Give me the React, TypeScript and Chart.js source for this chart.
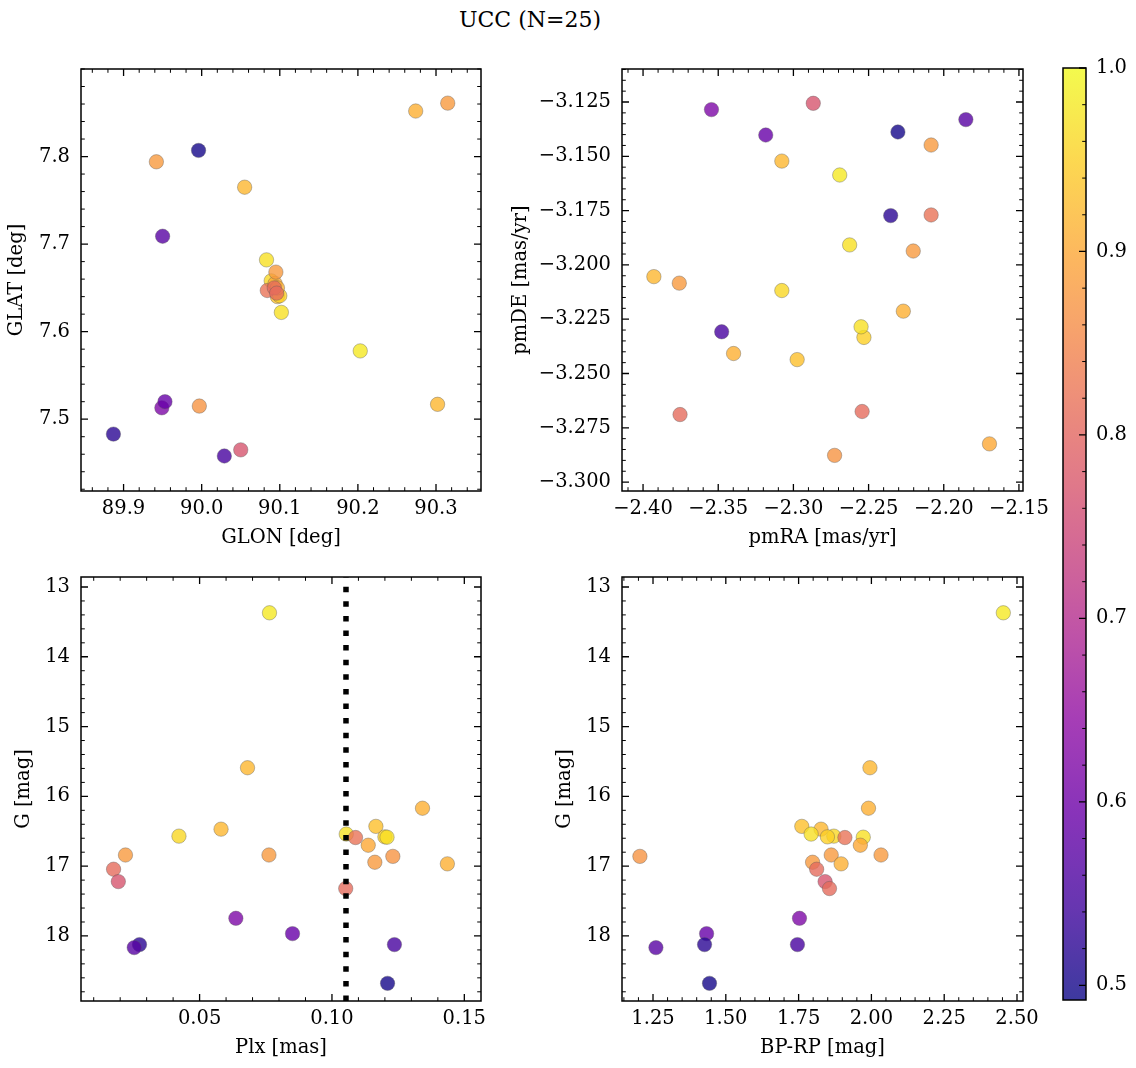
import React, { useEffect, useRef } from "react";
import { Chart, registerables } from "chart.js";
Chart.register(...registerables);

const TITLE = "UCC (N=25)";

// one entry per star
const prob = [0.98, 0.92, 0.91, 0.93, 0.92, 0.97, 0.96, 0.95, 0.97, 0.82, 0.90, 0.88, 0.88, 0.87, 0.88, 0.91, 0.81, 0.77, 0.81, 0.62, 0.59, 0.52, 0.55, 0.57, 0.50];
const glon = [90.203, 90.055, 90.274, 90.097, 90.302, 90.083, 90.089, 90.100, 90.102, 90.084, 90.094, 90.315, 89.942, 89.997, 90.095, 90.097, 90.093, 90.050, 90.096, 89.949, 89.953, 89.887, 90.029, 89.950, 89.996];
const glat = [7.578, 7.765, 7.852, 7.640, 7.517, 7.682, 7.658, 7.641, 7.622, 7.647, 7.655, 7.861, 7.794, 7.515, 7.668, 7.650, 7.650, 7.465, 7.644, 7.513, 7.520, 7.483, 7.458, 7.709, 7.807];
const pmra = [-2.2692, -2.3077, -2.2269, -2.2975, -2.3928, -2.2626, -2.3077, -2.2531, -2.2550, -2.2084, -2.1696, -2.2084, -2.3759, -2.2726, -2.2203, -2.3398, -2.3754, -2.2868, -2.2543, -2.3545, -2.3184, -2.2353, -2.3477, -2.1853, -2.2305];
const pmde = [-3.1586, -3.1522, -3.2213, -3.2436, -3.2054, -3.1908, -3.2118, -3.2334, -3.2285, -3.1770, -3.2824, -3.1448, -3.2084, -3.2877, -3.1936, -3.2408, -3.2689, -3.1256, -3.2675, -3.1285, -3.1402, -3.1773, -3.2308, -3.1331, -3.1388];
const plx = [0.0764, 0.0681, 0.1342, 0.1166, 0.0581, 0.1054, 0.0422, 0.1200, 0.1208, 0.1089, 0.1137, 0.0762, 0.0220, 0.1230, 0.1162, 0.1436, 0.0175, 0.0193, 0.1052, 0.0637, 0.0851, 0.0273, 0.1236, 0.0253, 0.1210];
const gmag = [13.37, 15.59, 16.17, 16.43, 16.47, 16.54, 16.57, 16.58, 16.585, 16.59, 16.70, 16.84, 16.84, 16.86, 16.944, 16.967, 17.044, 17.221, 17.321, 17.747, 17.967, 18.124, 18.124, 18.167, 18.679];
const bprp = [2.453, 1.995, 1.990, 1.761, 1.827, 1.793, 1.871, 1.849, 1.972, 1.909, 1.962, 2.033, 1.862, 1.205, 1.798, 1.896, 1.812, 1.841, 1.856, 1.753, 1.434, 1.427, 1.746, 1.260, 1.444];

const plxCluster = 0.1053;
const probMin = 0.492;
const probMax = 1.0;

const glonTicks = [89.9, 90.0, 90.1, 90.2, 90.3];
const glatTicks = [7.5, 7.6, 7.7, 7.8];
const pmraTicks = [-2.4, -2.35, -2.3, -2.25, -2.2, -2.15];
const pmdeTicks = [-3.3, -3.275, -3.25, -3.225, -3.2, -3.175, -3.15, -3.125];
const plxTicks = [0.05, 0.1, 0.15];
const gTicks = [13, 14, 15, 16, 17, 18];
const bprpTicks = [1.25, 1.5, 1.75, 2.0, 2.25, 2.5];
const cbarTicks = [0.5, 0.6, 0.7, 0.8, 0.9, 1.0];

// plasma colormap stops
const PLASMA = ["#0d0887", "#41049d", "#6a00a8", "#8f0da4", "#b12a90", "#cc4778", "#e16462", "#f2844b", "#fca636", "#fcce25", "#f0f921"];
const hex = (h: string) => [parseInt(h.slice(1, 3), 16), parseInt(h.slice(3, 5), 16), parseInt(h.slice(5, 7), 16)];
const ALPHA = 0.8;
function plasma(t: number, a = ALPHA) {
  const tt = Math.min(1, Math.max(0, t)) * (PLASMA.length - 1);
  const i = Math.min(PLASMA.length - 2, Math.floor(tt));
  const f = tt - i;
  const c0 = hex(PLASMA[i]);
  const c1 = hex(PLASMA[i + 1]);
  const c = c0.map((v, k) => Math.round(v + (c1[k] - v) * f));
  return `rgba(${c[0]},${c[1]},${c[2]},${a})`;
}
const norm = (p: number) => (p - probMin) / (probMax - probMin);

const FONT = "DejaVu Serif";
const TICK_SIZE = 19.5;
const LABEL_SIZE = 19.5;
const fmt = (dec: number) => (v: any) => Number(v).toFixed(dec).replace("-", "\u2212");

const decor = {
  id: "decor",
  afterDatasetsDraw(chart: any, _args: any, opts: any) {
    const { ctx, chartArea: a, scales } = chart;
    const xs = scales.x;
    const ys = scales.y;
    ctx.save();
    if (opts.vline != null) {
      const px = xs.getPixelForValue(opts.vline);
      ctx.beginPath();
      ctx.setLineDash([5.5, 9.1]);
      ctx.lineWidth = 5.5;
      ctx.strokeStyle = "#000";
      ctx.moveTo(px, a.bottom);
      ctx.lineTo(px, a.top);
      ctx.stroke();
      ctx.setLineDash([]);
    }
    ctx.strokeStyle = "#000";
    const minors = (major: number[], step: number, lo: number, hi: number) => {
      const out: number[] = [];
      const k0 = Math.ceil(Math.min(lo, hi) / step - 1e-9);
      const k1 = Math.floor(Math.max(lo, hi) / step + 1e-9);
      for (let k = k0; k <= k1; k++) {
        const v = k * step;
        if (!major.some((m) => Math.abs(m - v) < step * 0.01)) out.push(v);
      }
      return out;
    };
    const drawTicks = (vals: any, len: number, w: number) => {
      ctx.lineWidth = w;
      ctx.beginPath();
      for (const v of vals.x) {
        const p = xs.getPixelForValue(v);
        if (p < a.left - 0.5 || p > a.right + 0.5) continue;
        ctx.moveTo(p, a.bottom);
        ctx.lineTo(p, a.bottom - len);
        ctx.moveTo(p, a.top);
        ctx.lineTo(p, a.top + len);
      }
      for (const v of vals.y) {
        const p = ys.getPixelForValue(v);
        if (p < a.top - 0.5 || p > a.bottom + 0.5) continue;
        ctx.moveTo(a.left, p);
        ctx.lineTo(a.left + len, p);
        ctx.moveTo(a.right, p);
        ctx.lineTo(a.right - len, p);
      }
      ctx.stroke();
    };
    drawTicks({ x: opts.xTicks, y: opts.yTicks }, 7, 1.3);
    drawTicks(
      {
        x: minors(opts.xTicks, opts.xMinor, xs.min, xs.max),
        y: minors(opts.yTicks, opts.yMinor, ys.min, ys.max),
      },
      3.8,
      1
    );
    ctx.lineWidth = 1.5;
    ctx.strokeRect(a.left, a.top, a.right - a.left, a.bottom - a.top);
    ctx.restore();
  },
};

const cbarDecor = {
  id: "cbarDecor",
  beforeDatasetsDraw(chart: any) {
    const { ctx, chartArea: a, scales } = chart;
    const ys = scales.y;
    ctx.save();
    const g = ctx.createLinearGradient(0, a.bottom, 0, a.top);
    for (let i = 0; i <= 40; i++) g.addColorStop(i / 40, plasma(i / 40));
    ctx.fillStyle = g;
    ctx.fillRect(a.left, a.top, a.right - a.left, a.bottom - a.top);
    ctx.strokeStyle = "#000";
    ctx.lineWidth = 1.3;
    ctx.beginPath();
    for (const v of cbarTicks) {
      const p = ys.getPixelForValue(v);
      ctx.moveTo(a.right, p);
      ctx.lineTo(a.right - 7, p);
    }
    ctx.stroke();
    ctx.lineWidth = 1;
    ctx.beginPath();
    for (let k = 25; k <= 50; k++) {
      const v = k * 0.02;
      if (k % 5 === 0) continue;
      const p = ys.getPixelForValue(v);
      ctx.moveTo(a.right, p);
      ctx.lineTo(a.right - 3.8, p);
    }
    ctx.stroke();
    ctx.lineWidth = 1.5;
    ctx.strokeRect(a.left, a.top, a.right - a.left, a.bottom - a.top);
    ctx.restore();
  },
};

const PL = 130, PT = 30, PR = 34, XH = 70;

type PanelProps = {
  area: [number, number, number, number];
  xv: number[];
  yv: number[];
  xRange: [number, number];
  yRange: [number, number];
  xTicks: number[];
  yTicks: number[];
  xDec: number;
  yDec: number;
  xMinor: number;
  yMinor: number;
  xTitle: string;
  yTitle: string;
  yTitleOffset: number;
  reverseY?: boolean;
  vline?: number;
};

function Panel(p: PanelProps) {
  const ref = useRef<HTMLCanvasElement>(null);
  const [l, t, r, b] = p.area;
  const W = r - l + PL + PR;
  const H = b - t + PT + XH;
  useEffect(() => {
    const lh = LABEL_SIZE * 1.2;
    const yPad = PL - p.yTitleOffset - lh / 2;
    const xPad = XH - 47 - lh / 2;
    const chart = new Chart(ref.current as HTMLCanvasElement, {
      type: "scatter",
      data: {
        datasets: [
          {
            data: p.xv.map((x, i) => ({ x, y: p.yv[i] })),
            pointRadius: 7.2,
            pointBorderWidth: 0.7,
            pointBackgroundColor: prob.map((q) => plasma(norm(q))),
            pointBorderColor: "rgba(90,90,90,0.55)",
          },
        ],
      },
      options: {
        responsive: false,
        animation: false,
        events: [],
        layout: { padding: { left: 0, top: PT, right: PR, bottom: 0 } },
        plugins: {
          legend: { display: false },
          tooltip: { enabled: false },
          decor: {
            xTicks: p.xTicks,
            yTicks: p.yTicks,
            xMinor: p.xMinor,
            yMinor: p.yMinor,
            vline: p.vline ?? null,
          },
        } as any,
        scales: {
          x: {
            type: "linear",
            min: p.xRange[0],
            max: p.xRange[1],
            grid: { display: false, drawTicks: false },
            border: { display: false },
            ticks: {
              font: { family: FONT, size: TICK_SIZE },
              color: "#000",
              padding: 6,
              maxRotation: 0,
              autoSkip: false,
              callback: fmt(p.xDec),
            },
            afterBuildTicks: (s: any) => {
              s.ticks = p.xTicks.map((v) => ({ value: v }));
            },
            afterFit: (s: any) => {
              s.height = XH;
            },
            title: {
              display: true,
              text: p.xTitle,
              color: "#000",
              font: { family: FONT, size: LABEL_SIZE },
              padding: { top: 0, bottom: xPad },
            },
          },
          y: {
            type: "linear",
            min: p.yRange[0],
            max: p.yRange[1],
            reverse: !!p.reverseY,
            grid: { display: false, drawTicks: false },
            border: { display: false },
            ticks: {
              font: { family: FONT, size: TICK_SIZE },
              color: "#000",
              padding: 11,
              autoSkip: false,
              callback: fmt(p.yDec),
            },
            afterBuildTicks: (s: any) => {
              s.ticks = p.yTicks.map((v) => ({ value: v }));
            },
            afterFit: (s: any) => {
              s.width = PL;
            },
            title: {
              display: true,
              text: p.yTitle,
              color: "#000",
              font: { family: FONT, size: LABEL_SIZE },
              padding: { top: yPad, bottom: 0 },
            },
          },
        },
      },
      plugins: [decor as any],
    });
    return () => chart.destroy();
  }, []);
  return (
    <canvas
      ref={ref}
      width={W}
      height={H}
      style={{ position: "absolute", left: l - PL, top: t - PT, width: W, height: H }}
    />
  );
}

function ColorBar() {
  const ref = useRef<HTMLCanvasElement>(null);
  const area = [1063, 68, 1086, 1000];
  const left = 1050, top = 40, W = 86, H = 990;
  useEffect(() => {
    const chart = new Chart(ref.current as HTMLCanvasElement, {
      type: "scatter",
      data: { datasets: [{ data: [] }] },
      options: {
        responsive: false,
        animation: false,
        events: [],
        layout: {
          padding: {
            left: area[0] - left,
            top: area[1] - top,
            right: 0,
            bottom: top + H - area[3],
          },
        },
        plugins: { legend: { display: false }, tooltip: { enabled: false } },
        scales: {
          x: { display: false, min: 0, max: 1 },
          y: {
            position: "right",
            min: probMin,
            max: probMax,
            grid: { display: false, drawTicks: false },
            border: { display: false },
            ticks: {
              font: { family: FONT, size: TICK_SIZE },
              color: "#000",
              padding: 10,
              autoSkip: false,
              callback: fmt(1),
            },
            afterBuildTicks: (s: any) => {
              s.ticks = cbarTicks.map((v) => ({ value: v }));
            },
            afterFit: (s: any) => {
              s.width = left + W - area[2];
            },
          },
        },
      },
      plugins: [cbarDecor as any],
    });
    return () => chart.destroy();
  }, []);
  return (
    <canvas
      ref={ref}
      width={W}
      height={H}
      style={{ position: "absolute", left, top, width: W, height: H }}
    />
  );
}

export default function App() {
  return (
    <div
      style={{
        position: "absolute",
        left: 0,
        top: 0,
        width: 1136,
        height: 1068,
        background: "#fff",
        overflow: "hidden",
      }}
    >
      <div
        style={{
          position: "absolute",
          left: 330,
          width: 400,
          top: 6,
          textAlign: "center",
          fontFamily: FONT,
          fontSize: 22,
          lineHeight: "28px",
          color: "#000",
        }}
      >
        {TITLE}
      </div>
      <Panel
        area={[81, 69, 481, 491]}
        xv={glon}
        yv={glat}
        xRange={[89.8455, 90.3576]}
        yRange={[7.418, 7.9]}
        xTicks={glonTicks}
        yTicks={glatTicks}
        xDec={1}
        yDec={1}
        xMinor={0.02}
        yMinor={0.02}
        xTitle="GLON [deg]"
        yTitle="GLAT [deg]"
        yTitleOffset={64}
      />
      <Panel
        area={[622, 69, 1023, 491]}
        xv={pmra}
        yv={pmde}
        xRange={[-2.414, -2.1473]}
        yRange={[-3.3041, -3.1098]}
        xTicks={pmraTicks}
        yTicks={pmdeTicks}
        xDec={2}
        yDec={3}
        xMinor={0.01}
        yMinor={0.005}
        xTitle="pmRA [mas/yr]"
        yTitle="pmDE [mas/yr]"
        yTitleOffset={101}
      />
      <Panel
        area={[81, 577, 481, 1001]}
        xv={plx}
        yv={gmag}
        xRange={[0.0052, 0.1563]}
        yRange={[12.857, 18.932]}
        reverseY
        xTicks={plxTicks}
        yTicks={gTicks}
        xDec={2}
        yDec={0}
        xMinor={0.01}
        yMinor={0.2}
        xTitle="Plx [mas]"
        yTitle="G [mag]"
        yTitleOffset={57.4}
        vline={plxCluster}
      />
      <Panel
        area={[622, 577, 1023, 1001]}
        xv={bprp}
        yv={gmag}
        xRange={[1.1435, 2.5206]}
        yRange={[12.857, 18.932]}
        reverseY
        xTicks={bprpTicks}
        yTicks={gTicks}
        xDec={2}
        yDec={0}
        xMinor={0.05}
        yMinor={0.2}
        xTitle="BP-RP [mag]"
        yTitle="G [mag]"
        yTitleOffset={56.6}
      />
      <ColorBar />
    </div>
  );
}
